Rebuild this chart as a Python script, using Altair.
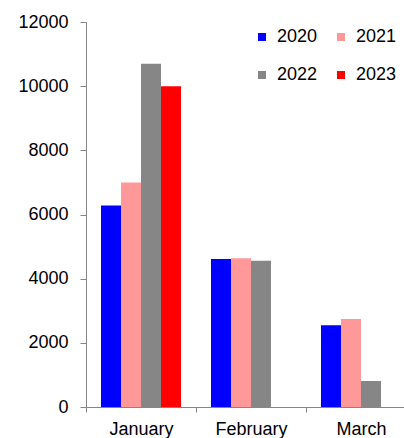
import altair as alt
import pandas as pd

months = ["January", "February", "March"]
years = ["2020", "2021", "2022", "2023"]
v2020 = [6280, 4610, 2550]
v2021 = [7000, 4640, 2740]
v2022 = [10700, 4560, 810]
v2023 = [10000, None, None]
colors = ["#0000FF", "#FF9999", "#868686", "#FF0000"]

rows = []
for yr, vals in zip(years, [v2020, v2021, v2022, v2023]):
    for m, v in zip(months, vals):
        if v is not None:
            rows.append({"month": m, "year": yr, "value": v})
df = pd.DataFrame(rows)

FONT = "Liberation Sans"
AX = "#868686"

chart = alt.Chart(df).mark_bar().encode(
    x=alt.X("month:N", sort=months, title=None,
            scale=alt.Scale(paddingInner=0, paddingOuter=0, range=[0, 330]),
            axis=alt.Axis(labelAngle=0, tickBand="extent", domainColor=AX, tickColor=AX,
                          tickSize=5, labelPadding=8, labelFont=FONT, labelFontSize=18,
                          labelColor="#000000")),
    xOffset=alt.XOffset("year:N", sort=years,
                        scale=alt.Scale(domain=years, paddingInner=0, paddingOuter=0.75)),
    y=alt.Y("value:Q", title=None,
            scale=alt.Scale(domain=[0, 12000], nice=False),
            axis=alt.Axis(values=[0, 2000, 4000, 6000, 8000, 10000, 12000], format="d",
                          grid=False, domainColor=AX, tickColor=AX, tickSize=6,
                          labelPadding=12, labelFont=FONT, labelFontSize=18,
                          labelColor="#000000")),
    color=alt.Color("year:N", sort=years,
                    scale=alt.Scale(domain=years, range=colors),
                    legend=alt.Legend(title=None, orient="none", legendX=167, legendY=6,
                                      direction="horizontal", columns=2,
                                      symbolType="square", symbolSize=64,
                                      symbolStrokeWidth=0, labelFont=FONT, labelFontSize=18,
                                      labelColor="#000000", labelOffset=6, columnPadding=14,
                                      rowPadding=20, padding=0)),
).properties(
    width=318, height=385,
    autosize=alt.AutoSizeParams(type="none"),
    padding={"left": 86, "top": 22, "right": 0, "bottom": 31},
).configure_view(stroke=None)

chart.save("out.html", embed_options={"renderer": "svg", "actions": False})
